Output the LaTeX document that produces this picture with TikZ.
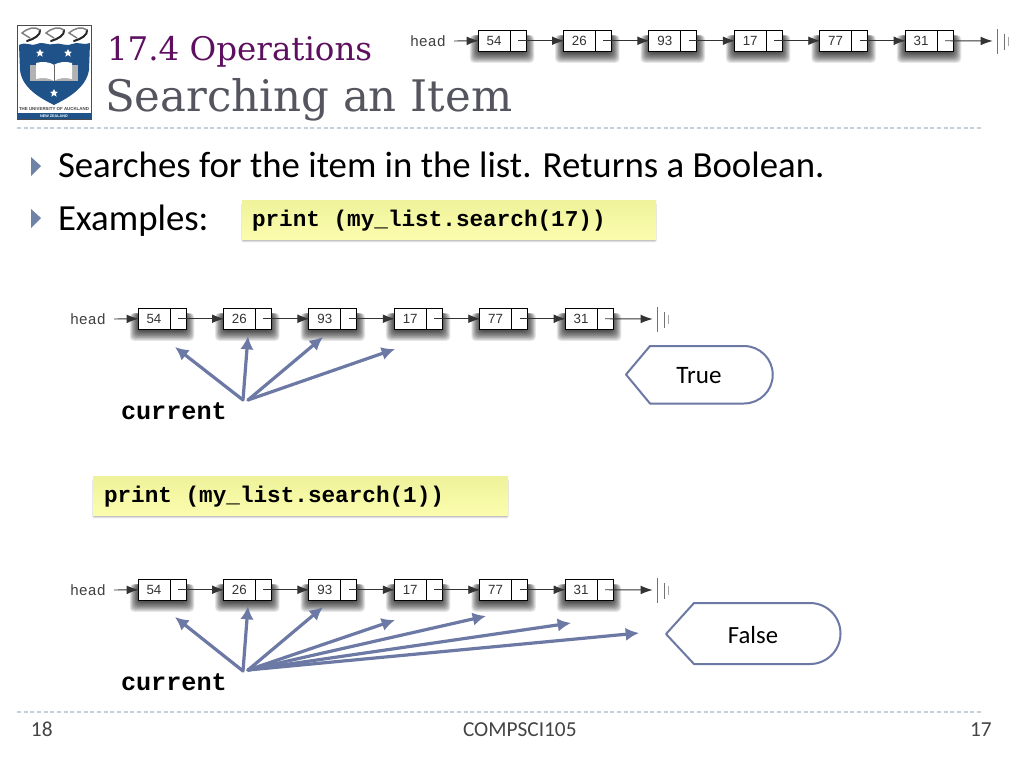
\documentclass[tikz,border=0pt]{standalone}
\usepackage{fontspec}
\setmainfont{Carlito}
\newfontfamily\titlefont{DejaVu Serif}
\newfontfamily\codefont{Liberation Mono}
\newfontfamily\cellfont{Liberation Sans}
\usetikzlibrary{arrows.meta,calc}
\definecolor{slateblue}{HTML}{6C79A4}
\definecolor{titlepurple}{HTML}{5E0F60}
\definecolor{titlegray}{HTML}{55555F}
\definecolor{rulecolor}{HTML}{C5D0DA}
\definecolor{bulletblue}{HTML}{6F83A6}
\definecolor{aucklandblue}{HTML}{1E5288}
\definecolor{footgray}{HTML}{444444}
\definecolor{codetop}{HTML}{EFF29A}
\definecolor{codebot}{HTML}{FBFDAE}
\newcommand{\fs}[1]{\fontsize{#1}{#1}\selectfont}
\tikzset{
  x=0.75pt,y=-0.75pt,
  txt/.style={inner sep=0pt,outer sep=0pt,anchor=base west},
  cellval/.style={draw=black,line width=0.7pt,fill=white,minimum width=32*0.75pt,minimum height=21.5*0.75pt,inner sep=0pt,outer sep=0pt,anchor=north west,font=\cellfont\fs{10},text=black!80},
  cellnext/.style={draw=black,line width=0.7pt,fill=white,minimum width=16*0.75pt,minimum height=21.5*0.75pt,inner sep=0pt,outer sep=0pt,anchor=north west},
  link/.style={draw=black!80,line width=0.7pt,-{Latex[length=9pt,width=6.5pt]},shorten >=-0.5pt},
  slate/.style={draw=slateblue,line width=2.4pt,line cap=round,-{Latex[length=10pt,width=10pt]}},
  tag/.style={draw=slateblue,line width=1.5pt,fill=white,line join=round},
  codebox/.style={inner sep=0pt,outer sep=0pt,draw=none,top color=codetop,bottom color=codebot},
  codetext/.style={txt,font=\codefont\bfseries\fs{17},text=black},
  curtext/.style={txt,font=\codefont\bfseries\fs{18.9},text=black},
  headtext/.style={txt,font=\codefont\fs{11.2},text=black!75},
  bullet/.style={fill=bulletblue,draw=none},
  dashrule/.style={draw=rulecolor,line width=0.8pt,dash pattern=on 3pt off 2pt},
  nullbar/.style={draw=black!55,line width=0.7pt},
}
% shadow of a list cell, in pixel coordinates
\newcommand{\cellshadow}[2]{%
  \foreach \g in {0,...,11}{
    \pgfmathsetmacro{\e}{(11-\g)*0.75}
    \fill[black,opacity=0.085,rounded corners=3pt]
      ($(#1,#2)+(-\e,5)$) rectangle ($(#1,#2)+(48+\e,23+1.2*\e)$);
  }}
% list #1 = prefix, #2 = dx, #3 = dy
\newcommand{\linkedlist}[3]{%
  \foreach \i/\v in {1/54,2/26,3/93,4/17,5/77,6/31}{
    \pgfmathsetmacro{\bx}{#2+478+85.4*(\i-1)}
    \pgfmathsetmacro{\by}{#3+30}
    \cellshadow{\bx}{\by}
    \node[cellval] (#1v\i) at (\bx,\by) {\v};
    \node[cellnext] (#1n\i) at ($(#1v\i.north east)$) {};
  }
  \node[headtext] (#1h) at (#2+410,#3+46) {head};
  \coordinate (#1hs) at (#2+454,#3+41);
  \coordinate (#1end) at (#2+992,#3+41);
  \draw[link] (#1hs) -- (#1v1.west);
  \foreach \a/\b in {1/2,2/3,3/4,4/5,5/6}{
    \draw[link] (#1n\a.center) -- (#1v\b.west);
  }
  \draw[link] (#1n6.center) -- (#1end);
  \coordinate (#1b1a) at (#2+997.5,#3+29); \coordinate (#1b1b) at (#2+997.5,#3+54);
  \coordinate (#1b2a) at (#2+1004,#3+34); \coordinate (#1b2b) at (#2+1004,#3+50);
  \coordinate (#1b3a) at (#2+1008,#3+37); \coordinate (#1b3b) at (#2+1008,#3+46);
  \draw[nullbar] (#1b1a) -- (#1b1b);
  \draw[nullbar] (#1b2a) -- (#1b2b);
  \draw[nullbar,draw=black!35] (#1b3a) -- (#1b3b);
}
\newcommand{\codeshadow}[4]{%
  \foreach \g in {1,...,5}{
    \fill[black,opacity=0.08,rounded corners=1pt] (#1-1+0.3*\g,#2+3) rectangle (#3+1-0.3*\g,#4+4-0.7*\g);
  }}
\begin{document}
\begin{tikzpicture}
\useasboundingbox (0,0) rectangle (1024,768);
\fill[white] (0,0) rectangle (1024,768);

% logo
\draw[black!70,line width=0.5pt,fill=white] (17,25) rectangle (91,119.5);
\fill[aucklandblue] (18,113) rectangle (90.5,119);
\node[inner sep=0pt,font=\cellfont\bfseries\fs{3.3},text=black!75] (logoa) at (54,109) {THE UNIVERSITY OF AUCKLAND};
\node[inner sep=0pt,font=\cellfont\bfseries\fs{2.8},text=white] (logob) at (54,116) {NEW ZEALAND};
\fill[aucklandblue] (19,45) .. controls (27,41) and (31,47) .. (37,44) .. controls (44,41) and (48,46) .. (54,44)
  .. controls (60,42) and (65,47) .. (72,44) .. controls (78,41) and (84,46) .. (90,43)
  -- (89,70) .. controls (86,88) and (68,98) .. (54,105) .. controls (40,98) and (22,88) .. (20,70) -- cycle;
\foreach \sx in {0,24,47}{
  \draw[black!85,line width=1.5pt,line cap=round] (27+\sx,41) .. controls (34+\sx,39) and (41+\sx,35) .. (40+\sx,30);
  \draw[black!50,line width=1.1pt,line cap=round] (40+\sx,30) .. controls (35+\sx,26) and (28+\sx,28) .. (22+\sx,33) -- (30+\sx,38);
}
\foreach \cx/\cy in {40/53,68/53,54/93}{
  \fill[white] (\cx,\cy-4) -- (\cx+1.2,\cy-1.3) -- (\cx+4,\cy-1.2) -- (\cx+1.8,\cy+0.7) -- (\cx+2.6,\cy+3.6) -- (\cx,\cy+2) -- (\cx-2.6,\cy+3.6) -- (\cx-1.8,\cy+0.7) -- (\cx-4,\cy-1.2) -- (\cx-1.2,\cy-1.3) -- cycle;
}
\fill[white!70!black] (30,65) rectangle (78,81);
\fill[white] (36,63) .. controls (42,61) and (50,62) .. (54,65) .. controls (58,62) and (66,61) .. (72,63) -- (72,79) .. controls (66,77) and (58,78) .. (54,81) .. controls (50,78) and (42,77) .. (36,79) -- cycle;
\draw[black!60,line width=0.5pt] (54,65) -- (54,81);

% header list and titles
\linkedlist{t}{0}{0}
\node[txt,font=\titlefont\fs{24.4},text=titlepurple] (title1) at (107,60) {17.4 Operations};
\node[txt,font=\titlefont\fs{32.6},text=titlegray] (title2) at (105,111) {Searching an Item};
\coordinate (r1a) at (17,128); \coordinate (r1b) at (983,128);
\draw[dashrule] (r1a) -- (r1b);

% bullets
\fill[bullet] (31,157) -- (41,166) -- (31,176) -- cycle;
\fill[bullet] (31,209) -- (41,218) -- (31,228) -- cycle;
\node[txt,font=\fs{27.6},text=black] (b1) at (58,177) {Searches for the item in the list. Returns a Boolean.};
\node[txt,font=\fs{27.6},text=black] (b2) at (58,230) {Examples:};

% first code box
\codeshadow{242}{200}{656}{239}
\shade[codebox] (242,200) rectangle (656,239);
\node[codetext] (c1) at (252,226) {print (my\_list.search(17))};

% second list
\linkedlist{a}{-340}{278}
\node[curtext] (cur1) at (121,419) {current};
\coordinate (a0) at (243,400);
\coordinate (a0b) at (248,400);
\coordinate (a1) at (175,347);
\coordinate (a2) at (248,336);
\coordinate (a3) at (323,337);
\coordinate (a4) at (395,349);
\draw[slate] (a0) -- (a1);
\draw[slate] (a0) -- (a2);
\draw[slate] (a0b) -- (a3);
\draw[slate] (a0b) -- (a4);
\draw[tag] (626,374.5) -- (650,346) -- (744,346) arc[start angle=-90,end angle=90,radius=28.75] -- (650,403.5) -- cycle;
\node[font=\fs{18.8},text=black,inner sep=0pt] (tru) at (699,376) {True};

% second code box
\codeshadow{93}{476}{508}{515}
\shade[codebox] (93,476) rectangle (508,515);
\node[codetext] (c2) at (104,502) {print (my\_list.search(1))};

% third list
\linkedlist{b}{-340}{549}
\node[curtext] (cur2) at (121,690) {current};
\coordinate (b0) at (243,671);
\coordinate (b0b) at (248,670);
\coordinate (e1) at (175,617);
\coordinate (e2) at (248,606);
\coordinate (e3) at (323,607);
\coordinate (e4) at (395,620);
\coordinate (e5) at (486,616);
\coordinate (e6) at (571,623);
\coordinate (e7) at (639,633);
\draw[slate] (b0) -- (e1);
\draw[slate] (b0) -- (e2);
\draw[slate] (b0b) -- (e3);
\draw[slate] (b0b) -- (e4);
\draw[slate] (b0b) -- (e5);
\draw[slate] (b0b) -- (e6);
\draw[slate] (b0b) -- (e7);
\draw[tag] (666,634) -- (694,603) -- (810,603) arc[start angle=-90,end angle=90,radius=30.5] -- (694,664) -- cycle;
\node[font=\fs{18.5},text=black,inner sep=0pt] (fal) at (753,635) {False};

% footer
\coordinate (r2a) at (17,712); \coordinate (r2b) at (983,712);
\draw[dashrule] (r2a) -- (r2b);
\node[txt,font=\fs{16},text=footgray] (f1) at (31,736) {18};
\node[txt,font=\fs{16},text=footgray] (f2) at (463,736) {COMPSCI105};
\node[txt,font=\fs{16},text=footgray] (f3) at (970,736) {17};
\end{tikzpicture}
\end{document}
